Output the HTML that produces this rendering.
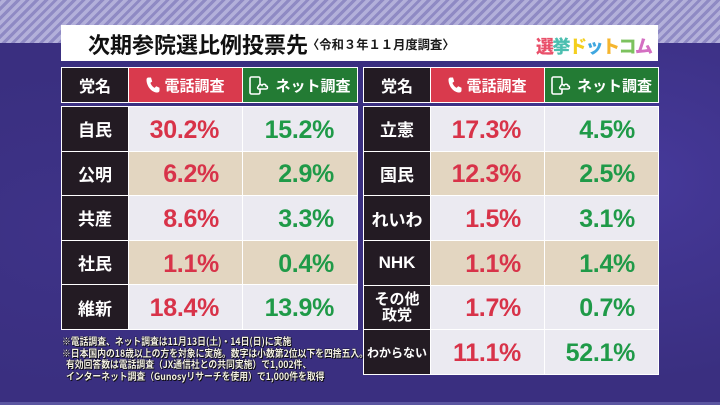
<!DOCTYPE html>
<html><head><meta charset="utf-8">
<style>
*{margin:0;padding:0;box-sizing:border-box}
body{width:720px;height:405px;overflow:hidden;position:relative;
 background:#3b3082;font-family:"Liberation Sans","Noto Sans CJK JP",sans-serif}
.bg{position:absolute;left:0;top:0;width:720px;height:405px;
 background:radial-gradient(ellipse 260px 200px at 640px 180px,#46399a 0%,rgba(59,48,130,0) 100%),
 radial-gradient(ellipse 200px 160px at 60px 230px,#4438926b 0%,rgba(59,48,130,0) 100%),#3a2f80}
.stripes{position:absolute;left:0;top:0;width:720px;height:43px;
 background:repeating-linear-gradient(-45deg,#b3b0da 0px,#b3b0da 3.6px,#8f8ac4 3.6px,#8f8ac4 6.6px)}
.bottomline{position:absolute;left:0;top:402px;width:720px;height:3px;background:#5a55a0}
.titlebox{position:absolute;left:61px;top:25px;width:597px;height:36px;background:#fff}
.title{position:absolute;left:88px;top:29px;font-size:22px;font-weight:bold;color:#111;line-height:30px;letter-spacing:0px;
 font-family:"Noto Sans CJK JP",sans-serif}
.sub{position:absolute;left:307px;top:36px;font-size:12.3px;font-weight:bold;color:#1a1a1a;line-height:16px;font-family:"Noto Sans CJK JP",sans-serif}
.logo{position:absolute;left:536px;top:33px;font-size:18px;font-weight:900;line-height:26px;font-family:"Noto Sans CJK JP",sans-serif;letter-spacing:-1.5px}
.tbl{position:absolute;background:#fff;padding:1px;display:grid;gap:1px}
.c{display:flex;align-items:center;justify-content:center;color:#fff;font-weight:bold;font-family:"Noto Sans CJK JP",sans-serif}
.p{background:#231b23;font-size:17px;line-height:19px;text-align:center}
.hp{background:#d93a4d;font-size:15px}
.hn{background:#237b34;font-size:15px}
.hd{background:#231b23;font-size:16px}
.n{justify-content:flex-end;padding-right:23px;padding-top:3px;font-family:"Liberation Sans",sans-serif;font-size:25px;letter-spacing:-0.3px}
.r{color:#d83349}.g{color:#1f9a48}
.L{background:#ebeaf1}.B{background:#e3d6c1}
.notes{position:absolute;left:62px;top:335px;color:#f4f1e6;font-size:10px;line-height:11.6px;font-weight:bold;
 font-family:"Noto Sans CJK JP",sans-serif;transform:scaleX(0.88);transform-origin:left top;white-space:nowrap;
 text-shadow:0 0 1px #000,0 0 1px #000,1px 1px 0 #111}
</style></head><body>
<div class="bg"></div>
<div class="stripes"></div>
<div class="bottomline"></div>
<div class="titlebox"></div>
<div class="title">次期参院選比例投票先</div>
<div class="sub">〈令和３年１１月度調査〉</div>
<div class="logo"><span style="color:#e9506a">選</span><span style="color:#4cbfb0">挙</span><span style="color:#f4cf1e">ド</span><span style="color:#3fa7e0">ッ</span><span style="color:#f5b52e">ト</span><span style="color:#7cc25e">コ</span><span style="color:#d46fc2">ム</span></div>

<!-- left header -->
<div class="tbl" style="left:61px;top:67px;width:297px;height:36px;grid-template-columns:66px 113px 1fr">
 <div class="c hd">党名</div>
 <div class="c hp"><svg width="14" height="16" viewBox="0 0 14 16" style="margin-right:4px"><path d="M2.5 0.5h2.5l1.2 4-1.8 1.4c0.9 2.4 2.2 3.9 4.2 5l1.6-1.6 3.3 1.4v2.8c0 1.2-1 2-2.2 2C5.5 15.5 0.5 9 0.5 2.7 0.5 1.4 1.3 0.5 2.5 0.5z" fill="#fff"/></svg>電話調査</div>
 <div class="c hn"><svg width="24" height="19" viewBox="0 0 24 19" style="margin-right:2px"><rect x="1" y="1" width="10" height="17" rx="1.5" fill="none" stroke="#fff" stroke-width="1.6"/><path d="M10 13c-1.5 0-2-2-0.5-2.5 0-2 2.5-2.5 3.5-1 1-2 4-1.5 4 0.5 2 0 2 3 0 3z" fill="#237b34" stroke="#fff" stroke-width="1.4"/></svg>ネット調査</div>
</div>
<!-- right header -->
<div class="tbl" style="left:363px;top:67px;width:296px;height:36px;grid-template-columns:66px 113px 1fr">
 <div class="c hd">党名</div>
 <div class="c hp"><svg width="14" height="16" viewBox="0 0 14 16" style="margin-right:4px"><path d="M2.5 0.5h2.5l1.2 4-1.8 1.4c0.9 2.4 2.2 3.9 4.2 5l1.6-1.6 3.3 1.4v2.8c0 1.2-1 2-2.2 2C5.5 15.5 0.5 9 0.5 2.7 0.5 1.4 1.3 0.5 2.5 0.5z" fill="#fff"/></svg>電話調査</div>
 <div class="c hn"><svg width="24" height="19" viewBox="0 0 24 19" style="margin-right:2px"><rect x="1" y="1" width="10" height="17" rx="1.5" fill="none" stroke="#fff" stroke-width="1.6"/><path d="M10 13c-1.5 0-2-2-0.5-2.5 0-2 2.5-2.5 3.5-1 1-2 4-1.5 4 0.5 2 0 2 3 0 3z" fill="#237b34" stroke="#fff" stroke-width="1.4"/></svg>ネット調査</div>
</div>

<!-- left body -->
<div class="tbl" style="left:61px;top:106px;width:297px;height:224px;grid-template-columns:66px 113px 1fr;grid-template-rows:repeat(5,1fr)">
 <div class="c p">自民</div><div class="c n r L">30.2%</div><div class="c n g L">15.2%</div>
 <div class="c p">公明</div><div class="c n r B">6.2%</div><div class="c n g B">2.9%</div>
 <div class="c p">共産</div><div class="c n r L">8.6%</div><div class="c n g L">3.3%</div>
 <div class="c p">社民</div><div class="c n r B">1.1%</div><div class="c n g B">0.4%</div>
 <div class="c p">維新</div><div class="c n r L">18.4%</div><div class="c n g L">13.9%</div>
</div>
<!-- right body -->
<div class="tbl" style="left:363px;top:106px;width:296px;height:269px;grid-template-columns:66px 113px 1fr;grid-template-rows:repeat(6,1fr)">
 <div class="c p">立憲</div><div class="c n r L">17.3%</div><div class="c n g L">4.5%</div>
 <div class="c p">国民</div><div class="c n r B">12.3%</div><div class="c n g B">2.5%</div>
 <div class="c p">れいわ</div><div class="c n r L">1.5%</div><div class="c n g L">3.1%</div>
 <div class="c p" style="font-family:'Liberation Sans',sans-serif;font-size:17px">NHK</div><div class="c n r B">1.1%</div><div class="c n g B">1.4%</div>
 <div class="c p" style="font-size:15px;line-height:16px">その他<br>政党</div><div class="c n r L">1.7%</div><div class="c n g L">0.7%</div>
 <div class="c p" style="font-size:12px">わからない</div><div class="c n r L">11.1%</div><div class="c n g L">52.1%</div>
</div>

<div class="notes">※電話調査、ネット調査は11月13日(土)・14日(日)に実施<br>※日本国内の18歳以上の方を対象に実施。数字は小数第2位以下を四捨五入。<br>&nbsp;&nbsp;有効回答数は電話調査（JX通信社との共同実施）で1,002件、<br>&nbsp;&nbsp;インターネット調査（Gunosyリサーチを使用）で1,000件を取得</div>
</body></html>
